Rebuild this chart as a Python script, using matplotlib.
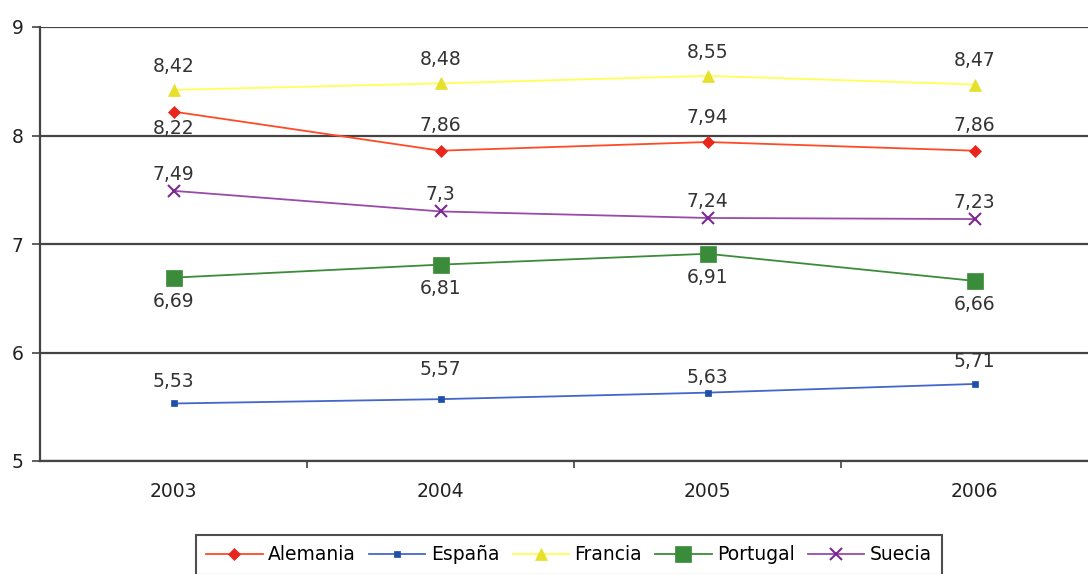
import numpy as np
import matplotlib
matplotlib.use('Agg')
import matplotlib.pyplot as plt

plt.rcParams['font.family'] = ['DejaVu Sans']

years = ['2003', '2004', '2005', '2006']
alemania = [8.22, 7.86, 7.94, 7.86]
espana = [5.53, 5.57, 5.63, 5.71]
francia = [8.42, 8.48, 8.55, 8.47]
portugal = [6.69, 6.81, 6.91, 6.66]
suecia = [7.49, 7.3, 7.24, 7.23]

# label offsets in points (+ above, - below)
off_alemania = [-12, 18, 18, 18]
off_espana = [16, 21, 11, 16]
off_francia = [17, 17, 17, 17]
off_portugal = [-17, -17, -17, -17]
off_suecia = [12, 12, 12, 12]

fig = plt.figure(figsize=(10.88, 5.74), dpi=100)
ax = fig.add_axes([40 / 1088, 1 - 461 / 574, 1068 / 1088, 434 / 574])

x = np.arange(len(years))
series = [
    ('Alemania', alemania, off_alemania, '#ff4a26', 'D', '#e8261c', 6),
    ('España', espana, off_espana, '#4466cc', 's', '#1f4fa8', 5),
    ('Francia', francia, off_francia, '#ffff55', '^', '#e6e02a', 8),
    ('Portugal', portugal, off_portugal, '#3a8c3a', 's', '#3a8c3a', 12),
    ('Suecia', suecia, off_suecia, '#9a4aa8', 'x', '#7a2a90', 8),
]

for name, vals, offs, lc, mk, mc, ms in series:
    ax.plot(x, vals, color=lc, lw=1.3, marker=mk, markersize=ms,
            markerfacecolor=mc, markeredgecolor=mc, markeredgewidth=1.5 if mk == 'x' else 0.5,
            label=name, zorder=3)
    for xi, v, o in zip(x, vals, offs):
        s = ('%g' % v).replace('.', ',')
        ax.annotate(s, (xi, v), xytext=(0, o), textcoords='offset points',
                    ha='center', va='center', fontsize=13.5, color='#333333', zorder=4)

ax.set_xlim(-0.5, 3.5)
ax.set_ylim(5, 9)
ax.set_yticks([5, 6, 7, 8, 9])
ax.yaxis.grid(True, color='#444444', lw=1.6)
ax.set_axisbelow(True)
ax.set_xticks(x)
ax.set_xticklabels(years)
ax.set_xticks([0.5, 1.5, 2.5], minor=True)
ax.tick_params(axis='x', which='major', length=0, labelsize=13.5, pad=15, colors='#222222')
ax.tick_params(axis='x', which='minor', length=5, width=1.2, color='#444444')
ax.tick_params(axis='y', length=6, width=1.2, color='#444444', labelsize=13.5, pad=6, labelcolor='#222222')
for side in ['top', 'right']:
    ax.spines[side].set_visible(False)
ax.spines['left'].set_color('#444444')
ax.spines['left'].set_linewidth(1.6)
ax.spines['bottom'].set_color('#444444')
ax.spines['bottom'].set_linewidth(1.6)

leg = fig.legend(loc='upper left', bbox_to_anchor=(196 / 1088, 1 - 535 / 574),
                 ncol=5, frameon=True, fontsize=13.5, handlelength=3,
                 columnspacing=0.7, handletextpad=0.3, borderpad=0.55, fancybox=False,
                 borderaxespad=0)
leg.get_frame().set_edgecolor('#222222')
leg.get_frame().set_linewidth(1.5)

fig.savefig('out.png', dpi=100)
